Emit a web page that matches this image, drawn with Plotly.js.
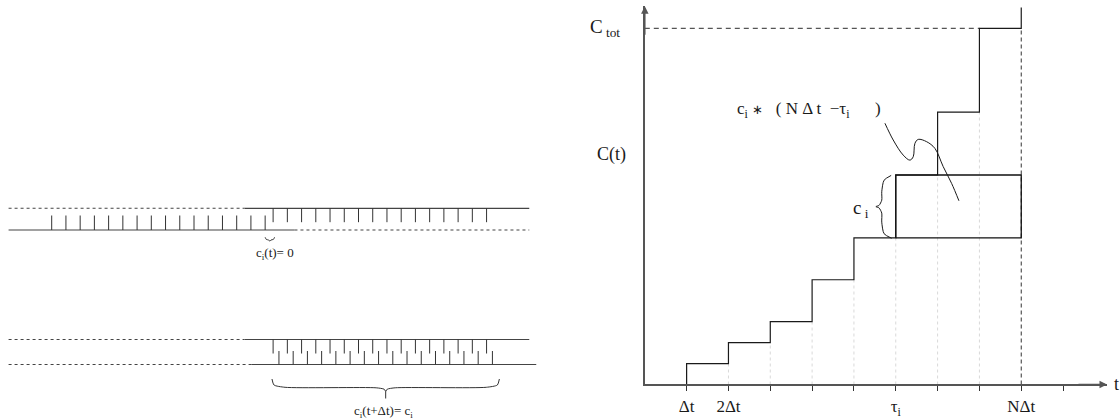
<!DOCTYPE html>
<html>
<head>
<meta charset="utf-8">
<script src="https://cdn.plot.ly/plotly-3.0.1.min.js"></script>
<style>html,body{margin:0;padding:0;background:#fff;}#chart{width:1120px;height:419px;}</style>
</head>
<body>
<div id="chart"></div>
<script>
// ---------------- Right panel: cumulative C(t) staircase ----------------
const stepTimes  = [1, 2, 3, 4, 5, 6, 7, 8, 9];          // multiples of Δt
const stepLevels = [1, 2, 3, 5, 7, 10, 13, 17];            // C(t) after each step
const cTot = 17;
const topExtension = 18;
const tauI = 6, nDt = 9;
const ciLow = 7, ciHigh = 10;
const xTickVals = [1, 2, 3, 4, 5, 6, 7, 8, 9, 10];
const xTickText = ['\u0394t', '2\u0394t', '', '', '', '\u03c4<sub>i</sub>', '', '', 'N\u0394t', ''];
const yLabelVals = [11, 17];
const yLabelText = ['C(t)', 'C<sub>\u00a0tot</sub>'];
const curveT = [5.741, 5.939, 6.178, 6.338, 6.417, 6.458, 6.537, 6.738, 6.936, 7.134, 7.335, 7.51];
const curveL = [12.47, 11.67, 10.95, 10.71, 10.87, 11.51, 11.70, 11.59, 11.27, 10.40, 9.60, 8.77];
const braceT = [5.89, 5.72, 5.665, 5.665, 5.60, 5.525, 5.60, 5.665, 5.665, 5.72, 5.90];
const braceL = [9.98, 9.75, 9.2, 8.8, 8.55, 8.49, 8.43, 8.18, 7.75, 7.2, 6.98];

// ---------------- Left panel: two rails with teeth ----------------
const railRow       = [208.3, 230, 339.5, 364.5];
const railSolidFrom = [13.55, -3.03, 13.55, 14.03];
const railSolidTo   = [33.56, 17.06, 33.56, 34.05];
const railDashFrom  = [-3.03, 17.06, -3.03, -3.03];
const railDashTo    = [13.55, 33.56, 13.55, 14.03];
const toothStart = [0, 15.56, 15.56, 15.97];
const toothCount = [16, 16, 16, 16];
const toothFrom  = [230, 208.3, 339.5, 364.5];
const toothTo    = [215.5, 222.2, 353.5, 351.0];
const smallBraceU = [15.0, 15.08, 15.25, 15.33, 15.41, 15.58, 15.66];
const smallBraceR = [237.3, 239.4, 240.0, 241.2, 240.0, 239.4, 237.3];
const bigBraceLeftU  = [15.48, 15.62, 16.4, 22.8, 23.36, 23.47];
const bigBraceLeftR  = [379.0, 385.0, 387.3, 387.8, 389.2, 391.5];
const bigBraceRightU = [23.47, 23.58, 24.14, 30.54, 31.32, 31.46];
const bigBraceRightR = [391.5, 389.2, 387.8, 387.3, 385.0, 379.0];
const bigBraceStemR  = [391.5, 398.5];
const leftLabels = ['c<sub>i</sub>(t)= 0', 'c<sub>i</sub>(t+\u0394t)= c<sub>i</sub>'];
const leftLabelU = [15.7, 23.35];
const leftLabelR = [253, 411];

const SERIF = 'Liberation Serif, Times New Roman, serif';
const INK = '#1a1a1a';
const xDom = [0.57571, 0.98839];
const yDom = [0.08234, 0.98484];

const traces = [];

// faint dotted guides under the staircase
const gx = [], gy = [];
for (let k = 1; k < stepTimes.length - 1; k++) {
  gx.push(stepTimes[k], stepTimes[k], null);
  gy.push(0, stepLevels[k - 1], null);
}
traces.push({x: gx, y: gy, mode: 'lines', line: {color: '#d9d9d9', width: 1, dash: 'dot'}, hoverinfo: 'skip'});

// dashed N Δt vertical and C_tot horizontal
traces.push({x: [nDt, nDt], y: [0, cTot], mode: 'lines', line: {color: '#333', width: 1, dash: '4px,3px'}, hoverinfo: 'skip'});
traces.push({x: [0, stepTimes[stepTimes.length - 2]], y: [cTot, cTot], mode: 'lines', line: {color: '#555', width: 1.2, dash: '5px,4px'}, hoverinfo: 'skip'});

// staircase
const sx = [stepTimes[0]], sy = [0];
for (let k = 0; k < stepLevels.length; k++) { sx.push(stepTimes[k]); sy.push(stepLevels[k]); }
sx.push(nDt, nDt); sy.push(cTot, topExtension);
traces.push({x: sx, y: sy, mode: 'lines', line: {color: INK, width: 1.2, shape: 'hv'}, hoverinfo: 'skip'});

// rectangle c_i * (NΔt - τ_i)
traces.push({x: [tauI, nDt, nDt, tauI, tauI], y: [ciLow, ciLow, ciHigh, ciHigh, ciLow], mode: 'lines', line: {color: '#111', width: 1.3}, hoverinfo: 'skip'});

// curly pointer and brace
traces.push({x: curveT, y: curveL, mode: 'lines', line: {color: INK, width: 1, shape: 'spline', smoothing: 1}, hoverinfo: 'skip'});
traces.push({x: braceT, y: braceL, mode: 'lines', line: {color: INK, width: 1, shape: 'spline', smoothing: 0.7}, hoverinfo: 'skip'});

// ---------- left panel traces ----------
const sX = [], sY = [], dX = [], dY = [];
for (let i = 0; i < railRow.length; i++) {
  sX.push(railSolidFrom[i], railSolidTo[i], null); sY.push(railRow[i], railRow[i], null);
  dX.push(railDashFrom[i], railDashTo[i], null); dY.push(railRow[i], railRow[i], null);
}
traces.push({x: sX, y: sY, xaxis: 'x2', yaxis: 'y2', mode: 'lines', line: {color: '#444', width: 1.2}, hoverinfo: 'skip'});
traces.push({x: dX, y: dY, xaxis: 'x2', yaxis: 'y2', mode: 'lines', line: {color: '#444', width: 1.1, dash: '3px,3px'}, hoverinfo: 'skip'});
const tX = [], tY = [];
for (let g = 0; g < toothStart.length; g++) {
  for (let k = 0; k < toothCount[g]; k++) {
    const u = toothStart[g] + k;
    tX.push(u, u, null); tY.push(toothFrom[g], toothTo[g], null);
  }
}
traces.push({x: tX, y: tY, xaxis: 'x2', yaxis: 'y2', mode: 'lines', line: {color: '#333', width: 1}, hoverinfo: 'skip'});
traces.push({x: smallBraceU, y: smallBraceR, xaxis: 'x2', yaxis: 'y2', mode: 'lines', line: {color: '#333', width: 1, shape: 'spline', smoothing: 0.6}, hoverinfo: 'skip'});
traces.push({x: bigBraceLeftU, y: bigBraceLeftR, xaxis: 'x2', yaxis: 'y2', mode: 'lines', line: {color: '#333', width: 1, shape: 'spline', smoothing: 0.6}, hoverinfo: 'skip'});
traces.push({x: bigBraceRightU, y: bigBraceRightR, xaxis: 'x2', yaxis: 'y2', mode: 'lines', line: {color: '#333', width: 1, shape: 'spline', smoothing: 0.6}, hoverinfo: 'skip'});
traces.push({x: [bigBraceLeftU[bigBraceLeftU.length - 1], bigBraceLeftU[bigBraceLeftU.length - 1]], y: bigBraceStemR, xaxis: 'x2', yaxis: 'y2', mode: 'lines', line: {color: '#333', width: 1}, hoverinfo: 'skip'});

const annotations = [];
// axis arrowheads
annotations.push({xref: 'paper', yref: 'paper', x: xDom[1], y: yDom[0], ax: -30, ay: 0, text: '', showarrow: true, arrowhead: 2, arrowsize: 1, arrowwidth: 1.5, arrowcolor: '#555', standoff: 0});
annotations.push({xref: 'paper', yref: 'paper', x: xDom[0], y: yDom[1], ax: 0, ay: 30, text: '', showarrow: true, arrowhead: 2, arrowsize: 1, arrowwidth: 1.5, arrowcolor: '#555', standoff: 0});
annotations.push({xref: 'paper', yref: 'paper', x: xDom[1], y: yDom[0], xanchor: 'left', yanchor: 'middle', xshift: 5, text: 't', showarrow: false, font: {family: SERIF, size: 18, color: INK}});
// y labels
annotations.push({xref: 'paper', yref: 'y', x: xDom[0], y: yLabelVals[0], xanchor: 'right', xshift: -17, text: yLabelText[0], showarrow: false, font: {family: SERIF, size: 18, color: INK}});
annotations.push({xref: 'paper', yref: 'y', x: xDom[0], y: yLabelVals[1], xanchor: 'right', xshift: -23, text: yLabelText[1], showarrow: false, font: {family: SERIF, size: 19, color: INK}});
// formula and c_i
annotations.push({xref: 'x', yref: 'y', x: 3.917, y: 13.1,
  text: 'c<sub>i</sub> <span style="font-size:13px">\u2217</span>\u00a0\u00a0\u00a0( N \u0394 t \u00a0\u2212\u03c4<sub>i</sub>\u00a0\u00a0\u00a0\u00a0\u00a0\u00a0)',
  showarrow: false, font: {family: SERIF, size: 17, color: INK}});
annotations.push({xref: 'x', yref: 'y', x: 5.163, y: 8.4, text: 'c<sub>\u00a0i</sub>', showarrow: false, font: {family: SERIF, size: 19, color: INK}});
// left labels
for (let i = 0; i < leftLabels.length; i++) {
  annotations.push({xref: 'x2', yref: 'y2', x: leftLabelU[i], y: leftLabelR[i], text: leftLabels[i], showarrow: false, font: {family: SERIF, size: 13, color: INK}});
}

const layout = {
  width: 1120, height: 419,
  margin: {l: 0, r: 0, t: 0, b: 0},
  paper_bgcolor: '#fff', plot_bgcolor: 'rgba(0,0,0,0)',
  showlegend: false,
  xaxis: {domain: xDom, range: [0, 11.05], showline: true, linecolor: '#555', linewidth: 1.5,
          ticks: 'outside', ticklen: 5, tickwidth: 1, tickcolor: '#333',
          tickvals: xTickVals, ticktext: xTickText, ticklabelstandoff: 1,
          tickfont: {family: SERIF, size: 17, color: INK},
          showgrid: false, zeroline: false, fixedrange: true, anchor: 'y'},
  yaxis: {domain: yDom, range: [0, 18.05], showline: true, linecolor: '#555', linewidth: 1.5,
          showticklabels: false, ticks: '', showgrid: false, zeroline: false, fixedrange: true, anchor: 'x'},
  xaxis2: {domain: [0, 0.5], range: [-3.633, 35.72], visible: false, anchor: 'y2', fixedrange: true},
  yaxis2: {domain: [0, 1], range: [419, 0], visible: false, anchor: 'x2', fixedrange: true},
  annotations: annotations
};

Plotly.newPlot('chart', traces, layout, {staticPlot: true, displayModeBar: false});
</script>
</body>
</html>
